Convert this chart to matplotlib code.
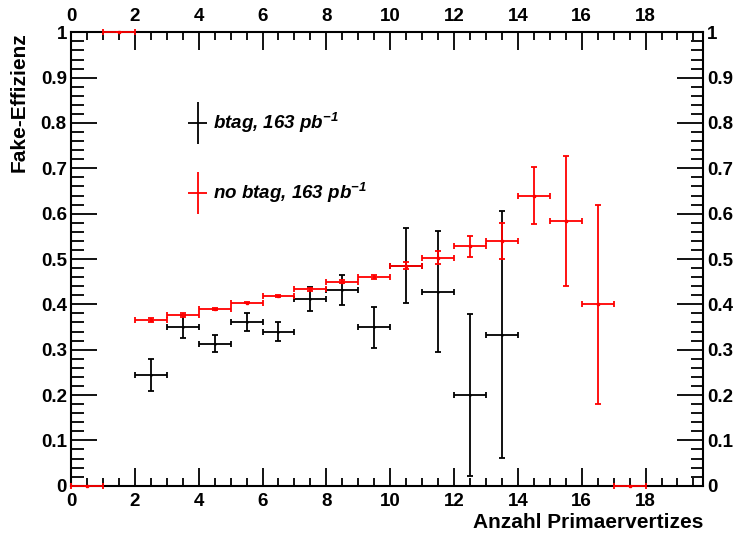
import numpy as np
import matplotlib
matplotlib.use("Agg")
import matplotlib.pyplot as plt
from matplotlib.ticker import MultipleLocator

plt.rcParams['font.family'] = ['Liberation Sans', 'DejaVu Sans']
plt.rcParams['font.weight'] = 'bold'
plt.rcParams['mathtext.fontset'] = 'custom'
plt.rcParams['mathtext.rm'] = 'Liberation Sans:bold:italic'
plt.rcParams['mathtext.it'] = 'Liberation Sans:bold:italic'
plt.rcParams['mathtext.bf'] = 'Liberation Sans:bold:italic'

# btag efficiency per number of primary vertices (bin centres, width 1)
btag_x = [2.5, 3.5, 4.5, 5.5, 6.5, 7.5, 8.5, 9.5, 10.5, 11.5, 12.5, 13.5]
btag_y = [0.244, 0.351, 0.313, 0.361, 0.340, 0.412, 0.432, 0.349, 0.485, 0.428, 0.200, 0.333]
btag_err = [0.036, 0.025, 0.019, 0.019, 0.020, 0.027, 0.033, 0.045, 0.083, 0.133, 0.179, 0.272]

# no btag efficiency
nobtag_x = [0.5, 1.5, 2.5, 3.5, 4.5, 5.5, 6.5, 7.5, 8.5, 9.5, 10.5, 11.5, 12.5, 13.5, 14.5, 15.5, 16.5, 17.5]
nobtag_y = [0.0, 1.0, 0.365, 0.377, 0.389, 0.404, 0.419, 0.433, 0.450, 0.460, 0.485, 0.503, 0.528, 0.539,
            0.640, 0.584, 0.400, 0.0]
nobtag_err = [0.0, 0.0, 0.005, 0.004, 0.002, 0.002, 0.002, 0.003, 0.004, 0.004, 0.008, 0.014, 0.023, 0.040,
              0.062, 0.143, 0.220, 0.0]

fig = plt.figure(figsize=(7.37, 5.41), dpi=100)
ax = fig.add_axes([0.0963, 0.1022, 0.8576, 0.8381])

ax.errorbar(btag_x, btag_y, xerr=0.5, yerr=btag_err, fmt='.', color='black', markersize=1.5,
            elinewidth=1.3, capsize=2, capthick=1.3, zorder=3)
ax.errorbar(nobtag_x, nobtag_y, xerr=0.5, yerr=nobtag_err, fmt='s', color='#ff0000', markersize=1.5,
            elinewidth=1.3, capsize=2, capthick=1.3, zorder=4, clip_on=False)

ax.set_xlim(0, 19.8)
ax.set_ylim(0, 1)

ax.xaxis.set_major_locator(MultipleLocator(2))
ax.xaxis.set_minor_locator(MultipleLocator(0.5))
ax.yaxis.set_major_locator(MultipleLocator(0.1))
ax.yaxis.set_minor_locator(MultipleLocator(0.02))
ax.set_yticks(np.arange(0, 1.01, 0.1))
ax.set_yticklabels(['0', '0.1', '0.2', '0.3', '0.4', '0.5', '0.6', '0.7', '0.8', '0.9', '1'])

ax.tick_params(axis='both', which='both', direction='in', top=True, right=True,
               labeltop=True, labelright=True, width=1.3, labelsize=13.5)
ax.tick_params(axis='x', which='major', length=13, pad=5)
ax.tick_params(axis='x', which='minor', length=6)
ax.tick_params(axis='y', which='major', length=19, pad=3)
ax.tick_params(axis='y', which='minor', length=9)
for s in ax.spines.values():
    s.set_linewidth(1.5)

fig.text(0.954, 0.035, 'Anzahl Primaervertizes', ha='right', va='center', fontsize=15, fontweight='bold')
fig.text(0.026, 0.94, 'Fake-Effizienz', ha='center', va='top', rotation=90, fontsize=15, fontweight='bold')

# legend drawn ROOT style
for ly, col, lab in [(0.8, 'black', 'btag, 163 pb$^{-1}$'), (0.6455, '#ff0000', 'no btag, 163 pb$^{-1}$')]:
    ax.errorbar([3.97], [ly], xerr=0.3, yerr=0.046, color=col, elinewidth=1.3, capsize=0)
    ax.text(4.45, ly, lab, ha='left', va='center', fontsize=13.5, fontweight='bold', fontstyle='italic')

fig.savefig('out.png', dpi=100)
